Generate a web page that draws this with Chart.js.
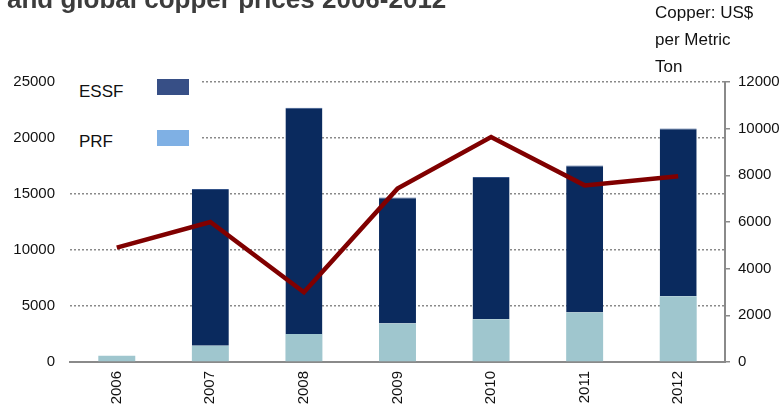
<!DOCTYPE html>
<html lang="en">
<head>
  <meta charset="UTF-8" />
  <title>ESSF / PRF and copper prices 2006-2012</title>
  <script src="https://cdn.jsdelivr.net/npm/chart.js"></script>
  <style>
    body {
      margin: 0;
      background: #fff;
      font-family: Arial, "Liberation Sans", sans-serif;
    }
    .wrap {
      position: relative;
      width: 783px;
      height: 409px;
      overflow: hidden;
    }
    .title {
      position: absolute;
      left: 7px;
      top: -16px;
      font-size: 26px;
      font-weight: bold;
      color: #3c3c3c;
      white-space: nowrap;
    }
    .unit {
      position: absolute;
      left: 655px;
      top: -1px;
      font-size: 17px;
      line-height: 27px;
      color: #111;
    }
    .legend {
      position: absolute;
      left: 70px;
      top: 72px;
      width: 132px;
      height: 82px;
      background: #fff;
    }
    .legend .item {
      position: absolute;
      left: 9px;
      font-size: 17px;
      color: #111;
    }
    .legend .box {
      position: absolute;
      left: 87px;
      width: 32px;
      height: 16px;
    }
  </style>
</head>
<body>
  <div class="wrap">
    <canvas id="chart" width="783" height="409"></canvas>
    <div class="title">and global copper prices 2006-2012</div>
    <div class="unit">Copper: US$<br>per Metric<br>Ton</div>
    <div class="legend">
      <span class="item" style="top:10px">ESSF</span>
      <span class="box" style="top:7px;background:#374f86"></span>
      <span class="item" style="top:60px">PRF</span>
      <span class="box" style="top:58px;background:#7fb0e4"></span>
    </div>
  </div>

  <script>
    // values
    const years = ['2006', '2007', '2008', '2009', '2010', '2011', '2012'];
    const prf = [550, 1450, 2500, 3430, 3810, 4410, 5870];
    const essf = [0, 14000, 20200, 11250, 12710, 13130, 14970];
    const copper = [4900, 6000, 2990, 7430, 9640, 7570, 7960];

    const leftTicks = [0, 5000, 10000, 15000, 20000, 25000];
    const rightTicks = [0, 2000, 4000, 6000, 8000, 10000, 12000];

    Chart.defaults.font.family = 'Arial, "Liberation Sans", sans-serif';
    Chart.defaults.font.size = 15;
    Chart.defaults.color = '#111';

    new Chart(document.getElementById('chart').getContext('2d'), {
      type: 'bar',
      data: {
        labels: years,
        datasets: [
          {
            type: 'line',
            label: 'Copper',
            data: copper,
            yAxisID: 'y1',
            borderColor: '#800000',
            borderWidth: 4.5,
            pointRadius: 0,
            tension: 0,
            order: 0
          },
          {
            label: 'PRF',
            data: prf,
            yAxisID: 'y',
            backgroundColor: '#9fc6ce',
            stack: 's',
            order: 1
          },
          {
            label: 'ESSF',
            data: essf,
            yAxisID: 'y',
            backgroundColor: '#0a2a5e',
            borderColor: '#34548a',
            borderWidth: {top: 1, left: 0, right: 0, bottom: 0},
            borderSkipped: false,
            stack: 's',
            order: 1
          }
        ]
      },
      options: {
        responsive: false,
        animation: false,
        layout: { padding: { top: 82, left: 0, right: 0, bottom: 0 } },
        plugins: {
          legend: { display: false },
          tooltip: { enabled: false }
        },
        datasets: {
          bar: { categoryPercentage: 1, barPercentage: 0.395 }
        },
        scales: {
          x: {
            stacked: true,
            grid: { display: false, drawTicks: false },
            border: { display: true, color: '#8a8a8a', width: 2 },
            ticks: { minRotation: 90, maxRotation: 90, padding: 9, color: '#111' },
            afterFit: s => { s.height = 47; }
          },
          y: {
            stacked: true,
            position: 'left',
            min: 0,
            max: 25000,
            afterBuildTicks: s => { s.ticks = leftTicks.map(v => ({ value: v })); },
            grid: {
              drawTicks: false,
              color: c => c.tick && c.tick.value === 0 ? 'rgba(0,0,0,0)' : '#8a8a8a',
              lineWidth: 1.5
            },
            border: { display: false, dash: [2, 2] },
            ticks: { padding: 15, color: '#111', callback: v => String(v) },
            afterFit: s => { s.width = 70; }
          },
          y1: {
            position: 'right',
            min: 0,
            max: 12000,
            afterBuildTicks: s => { s.ticks = rightTicks.map(v => ({ value: v })); },
            grid: { drawOnChartArea: false, drawTicks: true, tickLength: 5, color: '#8a8a8a', lineWidth: 1.5 },
            border: { display: true, color: '#8a8a8a', width: 2 },
            ticks: { padding: 8, color: '#111', callback: v => String(v) },
            afterFit: s => { s.width = 58; }
          }
        }
      }
    });
  </script>
</body>
</html>
